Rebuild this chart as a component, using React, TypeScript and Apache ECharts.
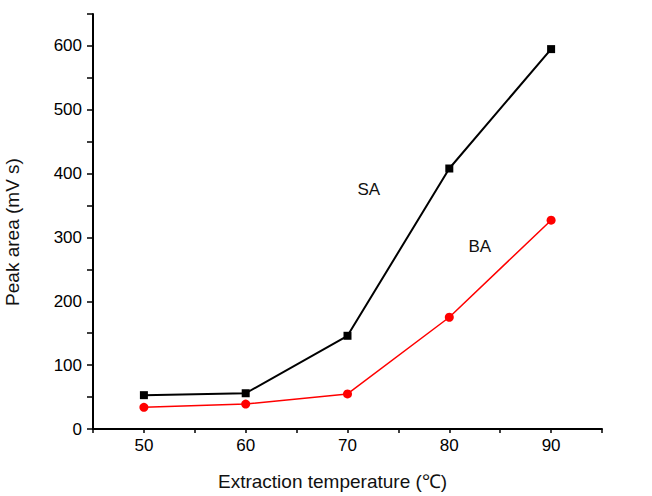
import React, { useEffect, useRef } from "react";
import * as echarts from "echarts";

const temperatures = [50, 60, 70, 80, 90];
const saValues = [53, 56, 146, 408, 595];
const baValues = [34, 39, 55, 175, 327];
const xTickLabels = [50, 60, 70, 80, 90];
const yTickLabels = [0, 100, 200, 300, 400, 500, 600];
const annotations = [
  { name: "SA", x: 72.1, y: 375 },
  { name: "BA", x: 83.0, y: 286 },
];
const xTitle = "Extraction temperature (℃)";
const yTitle = "Peak area (mV s)";

const FONT = "'Liberation Sans', Arial, sans-serif";

export default function App() {
  const ref = useRef<HTMLDivElement>(null);
  useEffect(() => {
    if (!ref.current) return;
    const chart = echarts.init(ref.current, null, { renderer: "svg" });
    const labelPoint = (a: { name: string; x: number; y: number }) => ({
      coord: [a.x, a.y],
      symbol: "circle",
      symbolSize: 1,
      itemStyle: { color: "rgba(0,0,0,0)" },
      label: {
        show: true,
        position: "inside",
        formatter: a.name,
        fontFamily: FONT,
        fontSize: 17,
        color: "#111",
      },
    });
    chart.setOption({
      animation: false,
      backgroundColor: "#ffffff",
      grid: { left: 93, top: 14, right: 50, bottom: 67, containLabel: false },
      graphic: [
        {
          type: "text",
          left: 218,
          top: 472,
          style: { text: xTitle, fontFamily: FONT, fontSize: 19, fill: "#111" },
        },
        {
          type: "text",
          x: 12,
          y: 232,
          rotation: Math.PI / 2,
          style: {
            text: yTitle,
            fontFamily: FONT,
            fontSize: 19,
            fill: "#111",
            align: "center",
            verticalAlign: "middle",
          },
        },
      ],
      xAxis: {
        type: "value",
        min: 45,
        max: 95,
        interval: 5,
        axisLine: { show: true, onZero: false, lineStyle: { color: "#000", width: 2 } },
        axisTick: { show: true, length: 4, lineStyle: { color: "#000", width: 1.5 } },
        axisLabel: {
          fontFamily: FONT,
          fontSize: 17,
          color: "#000",
          margin: 8,
          formatter: (v: number) => (xTickLabels.includes(v) ? String(v) : ""),
        },
        splitLine: { show: false },
      },
      yAxis: {
        type: "value",
        min: 0,
        max: 650,
        interval: 50,
        axisLine: { show: true, lineStyle: { color: "#000", width: 2 } },
        axisTick: { show: true, length: 6, lineStyle: { color: "#000", width: 1.5 } },
        axisLabel: {
          fontFamily: FONT,
          fontSize: 17,
          color: "#000",
          margin: 11,
          formatter: (v: number) => (yTickLabels.includes(v) ? String(v) : ""),
        },
        splitLine: { show: false },
      },
      series: [
        {
          name: "SA",
          type: "line",
          data: temperatures.map((t, i) => [t, saValues[i]]),
          symbol: "rect",
          symbolSize: 8,
          itemStyle: { color: "#000" },
          lineStyle: { color: "#000", width: 2 },
          markPoint: { data: [labelPoint(annotations[0])] },
        },
        {
          name: "BA",
          type: "line",
          data: temperatures.map((t, i) => [t, baValues[i]]),
          symbol: "circle",
          symbolSize: 9,
          itemStyle: { color: "#ff0000" },
          lineStyle: { color: "#ff0000", width: 1.5 },
          markPoint: { data: [labelPoint(annotations[1])] },
        },
      ],
    });
    return () => chart.dispose();
  }, []);
  return <div ref={ref} style={{ width: 652, height: 496, position: "absolute", left: 0, top: 0 }} />;
}
